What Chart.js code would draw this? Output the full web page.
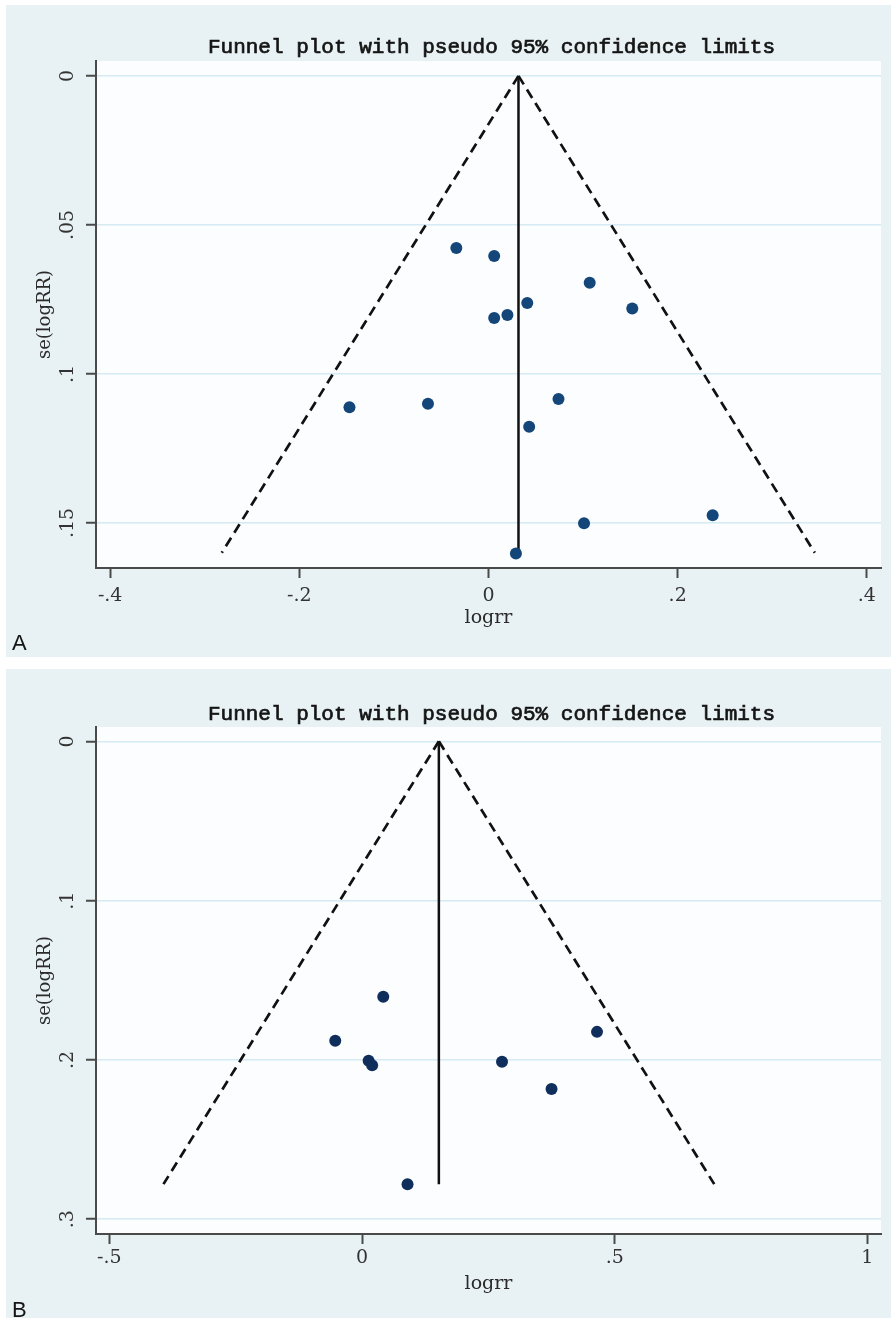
<!DOCTYPE html>
<html>
<head>
<meta charset="utf-8">
<script src="https://cdn.jsdelivr.net/npm/chart.js@4.4.1/dist/chart.umd.min.js"></script>
<style>
  body { margin: 0; background: #fff; width: 891px; height: 1318px; position: relative; overflow: hidden; }
  .panel { position: absolute; left: 6px; background: #e8f1f3; }
  #panelA { top: 5px; width: 885px; height: 652px; }
  #panelB { top: 669px; width: 885px; height: 649px; }
  canvas { display: block; }
</style>
</head>
<body>
<div class="panel" id="panelA"><canvas id="chartA" width="885" height="652"></canvas></div>
<div class="panel" id="panelB"><canvas id="chartB" width="885" height="649"></canvas></div>
<script>
// ---- panel A ----
const logrrA = [-0.034, 0.006, 0.107, 0.041, 0.020, 0.006, 0.152, -0.147, -0.064, 0.074, 0.043, 0.101, 0.237, 0.029];
const seA = [0.0577, 0.0604, 0.0694, 0.0762, 0.0802, 0.0812, 0.0780, 0.1112, 0.1100, 0.1084, 0.1177, 0.1501, 0.1474, 0.1602];
const funnelXA = [-0.282, 0.0317, 0.345];   // lower-left, apex, lower-right
const funnelYA = [0.160, 0, 0.160];
const xTicksA = [-0.4, -0.2, 0, 0.2, 0.4];
const xLabelsA = ['-.4', '-.2', '0', '.2', '.4'];
const yTicksA = [0, 0.05, 0.1, 0.15];
const yLabelsA = ['0', '.05', '.1', '.15'];

// ---- panel B ----
const logrrB = [0.042, -0.053, 0.013, 0.020, 0.090, 0.277, 0.375, 0.465];
const seB = [0.1603, 0.1880, 0.2005, 0.2033, 0.2780, 0.2012, 0.2183, 0.1824];
const funnelXB = [-0.393, 0.152, 0.697];
const funnelYB = [0.278, 0, 0.278];
const xTicksB = [-0.5, 0, 0.5, 1];
const xLabelsB = ['-.5', '0', '.5', '1'];
const yTicksB = [0, 0.1, 0.2, 0.3];
const yLabelsB = ['0', '.1', '.2', '.3'];

const chartTitle = 'Funnel plot with pseudo 95% confidence limits';
const axisColor = '#4a4a4a';
const textColor = '#2a2a2a';

const panelDecor = {
    id: 'panelDecor',
    beforeDraw(chart) {
        const {ctx, chartArea: a} = chart;
        ctx.save();
        ctx.fillStyle = '#fbfdfe';
        ctx.fillRect(a.left, a.top, a.right - a.left, a.bottom - a.top);
        ctx.restore();
    },
    afterDraw(chart, args, opts) {
        const ctx = chart.ctx;
        ctx.save();
        ctx.fillStyle = '#151515';
        ctx.strokeStyle = '#151515';
        ctx.lineWidth = 0.7;
        ctx.font = '21px "Liberation Mono"';
        ctx.textAlign = 'center';
        ctx.textBaseline = 'alphabetic';
        ctx.fillText(chartTitle, opts.titleX, opts.titleY);
        ctx.strokeText(chartTitle, opts.titleX, opts.titleY);
        ctx.font = '22px "Liberation Sans"';
        ctx.textAlign = 'left';
        ctx.fillText(opts.letter, 6, opts.letterY);
        ctx.restore();
    }
};

function makeFunnel(id, d) {
    const pts = d.logrr.map((x, i) => ({x: x, y: d.se[i]}));
    const apex = {x: d.funnelX[1], y: d.funnelY[1]};
    const left = {x: d.funnelX[0], y: d.funnelY[0]};
    const right = {x: d.funnelX[2], y: d.funnelY[2]};
    const serif = '"DejaVu Serif", serif';
    return new Chart(document.getElementById(id), {
        type: 'scatter',
        data: {
            datasets: [
                {
                    label: 'studies',
                    data: pts,
                    pointRadius: 6,
                    pointBorderWidth: 0,
                    backgroundColor: d.dot,
                    borderColor: d.dot
                },
                {
                    type: 'line',
                    label: 'pooled',
                    data: [apex, {x: apex.x, y: left.y}],
                    borderColor: '#111',
                    borderWidth: 2.5,
                    pointRadius: 0,
                    showLine: true
                },
                {
                    type: 'line',
                    label: 'lower limit',
                    data: [apex, left],
                    borderColor: '#111',
                    borderWidth: 2.7,
                    borderDash: [10, 6],
                    pointRadius: 0,
                    showLine: true
                },
                {
                    type: 'line',
                    label: 'upper limit',
                    data: [apex, right],
                    borderColor: '#111',
                    borderWidth: 2.7,
                    borderDash: [10, 6],
                    pointRadius: 0,
                    showLine: true
                }
            ]
        },
        options: {
            responsive: false,
            animation: false,
            devicePixelRatio: 1,
            layout: { padding: { left: 0, right: 10, top: d.padTop, bottom: d.padBottom } },
            scales: {
                x: {
                    type: 'linear',
                    min: d.xMin,
                    max: d.xMax,
                    afterBuildTicks: s => { s.ticks = d.xTicks.map(v => ({value: v})); },
                    afterFit: s => { s.height = 70; },
                    ticks: {
                        callback: (v, i) => d.xLabels[i],
                        autoSkip: false,
                        maxRotation: 0,
                        padding: d.xPad,
                        color: '#333',
                        font: { family: serif, size: 19 }
                    },
                    grid: { drawOnChartArea: false, tickLength: 10, tickColor: axisColor, tickWidth: 2 },
                    border: { color: axisColor, width: 2 },
                    title: {
                        display: true,
                        text: 'logrr',
                        color: textColor,
                        font: { family: serif, size: 19 },
                        padding: { top: 0, bottom: 8.6 }
                    }
                },
                y: {
                    type: 'linear',
                    reverse: true,
                    min: d.yMin,
                    max: d.yMax,
                    afterBuildTicks: s => { s.ticks = d.yTicks.map(v => ({value: v})); },
                    afterFit: s => { s.width = 90; },
                    ticks: {
                        callback: (v, i) => d.yLabels[i],
                        minRotation: 90,
                        maxRotation: 90,
                        crossAlign: 'center',
                        padding: d.yPad,
                        color: '#333',
                        font: { family: serif, size: 19 }
                    },
                    grid: { color: '#d5eaf2', lineWidth: 1.5, tickLength: 10, tickColor: axisColor, tickWidth: 2 },
                    border: { color: axisColor, width: 2 },
                    title: {
                        display: true,
                        text: 'se(logRR)',
                        color: textColor,
                        font: { family: serif, size: 18 },
                        padding: { top: 29, bottom: 0 }
                    }
                }
            },
            plugins: {
                legend: { display: false },
                tooltip: { enabled: false },
                panelDecor: d.decor
            }
        },
        plugins: [panelDecor]
    });
}

makeFunnel('chartA', {
    logrr: logrrA, se: seA, funnelX: funnelXA, funnelY: funnelYA,
    xTicks: xTicksA, xLabels: xLabelsA, yTicks: yTicksA, yLabels: yLabelsA,
    xMin: -0.415, xMax: 0.415, yMin: -0.005, yMax: 0.1651,
    padTop: 56, padBottom: 19, xPad: 7, yPad: 3,
    dot: '#154679',
    decor: { titleX: 485.5, titleY: 48, letter: 'A', letterY: 645 }
});

makeFunnel('chartB', {
    logrr: logrrB, se: seB, funnelX: funnelXB, funnelY: funnelYB,
    xTicks: xTicksB, xLabels: xLabelsB, yTicks: yTicksB, yLabels: yLabelsB,
    xMin: -0.5265, xMax: 1.027, yMin: -0.009, yMax: 0.3093,
    padTop: 58, padBottom: 14, xPad: 3, yPad: 9,
    dot: '#102e5c',
    decor: { titleX: 485.5, titleY: 51, letter: 'B', letterY: 648 }
});
</script>
</body>
</html>
